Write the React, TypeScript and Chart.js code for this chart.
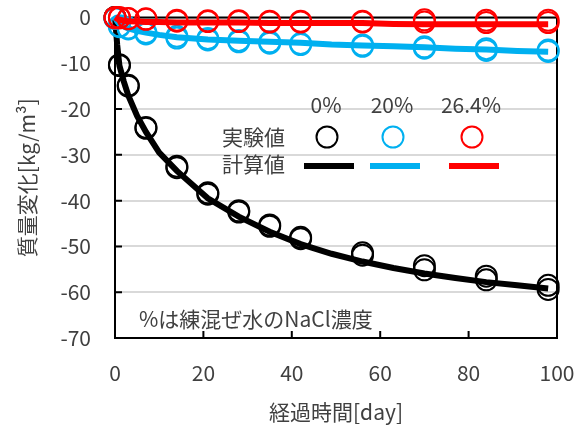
import React, { useEffect, useRef } from "react";
import { Chart, registerables } from "chart.js";

Chart.register(...registerables);

const FONT = '"Noto Sans CJK JP", "Noto Sans", sans-serif';
const TEXT = "#404040";

const seriesLabels = ["0%", "20%", "26.4%"];
const seriesColors = ["#000000", "#00B0F0", "#FF0000"];
const rowLabels = ["実験値", "計算値"];
const noteText = "%は練混ぜ水のNaCl濃度";
const xTitle = "経過時間[day]";
const yTitle = "質量変化[kg/m³]";

const expDays = [0, 1, 3, 7, 14, 21, 28, 35, 42, 56, 70, 84, 98];
const exp0A = [0, -10.3, -14.8, -24, -32.5, -38.3, -42.2, -45.3, -48, -51.4, -54.2, -56.5, -58.5];
const exp0B = [0, -10.5, -15, -24.2, -32.8, -38.6, -42.5, -45.6, -48.3, -51.9, -55.1, -57.3, -59.4];
const exp20A = [-0.2, -1.8, -2.3, -3.3, -4.1, -4.6, -5.0, -5.3, -5.7, -6.0, -6.4, -6.8, -7.1];
const exp20B = [-0.2, -2.0, -2.5, -3.6, -4.5, -4.9, -5.3, -5.6, -5.9, -6.3, -6.7, -7.2, -7.4];
const exp264A = [0, 0, -0.2, -0.3, -0.6, -0.7, -0.7, -0.8, -0.8, -0.8, -0.5, -0.6, -0.6];
const exp264B = [-0.1, -0.1, -0.3, -0.4, -0.8, -0.9, -0.9, -1.0, -1.0, -1.0, -1.0, -1.1, -1.1];

const calcDays = [0, 0.5, 1, 2, 3, 5, 7, 10, 14, 21, 28, 35, 42, 49, 56, 63, 70, 77, 84, 91, 98];
const calc0 = [0, -6, -10.5, -14, -17, -21.5, -25, -29.5, -33.5, -39.5, -43.5, -46.8, -49.5, -51.6, -53.3, -54.7, -55.9, -56.9, -57.8, -58.5, -59.2];
const calc20 = [0, -0.8, -1.4, -2, -2.4, -2.9, -3.3, -3.8, -4.3, -4.8, -5.1, -5.3, -5.5, -5.9, -6.1, -6.3, -6.5, -6.8, -7.0, -7.3, -7.5];
const calc264 = [0, -0.3, -0.5, -0.7, -0.8, -0.9, -1.0, -1.0, -1.1, -1.1, -1.1, -1.2, -1.2, -1.2, -1.2, -1.4, -1.5, -1.5, -1.5, -1.5, -1.5];

const xMin = 0, xMax = 100, xStep = 20;
const yMin = -70, yMax = 0, yStep = 10;

const pts = (xs: number[], ys: number[]) => xs.map((x, i) => ({ x, y: ys[i] }));

const expDataset = (ys: number[], color: string, order: number) => ({
  data: pts(expDays, ys),
  showLine: false,
  pointStyle: "circle",
  pointRadius: 10.5,
  pointBorderWidth: 2,
  pointBorderColor: color,
  pointBackgroundColor: "rgba(0,0,0,0)",
  borderColor: color,
  clip: false,
  order,
});

const calcDataset = (ys: number[], color: string, order: number) => ({
  data: pts(calcDays, ys),
  showLine: true,
  pointRadius: 0,
  borderWidth: 6,
  borderColor: color,
  backgroundColor: color,
  tension: 0,
  clip: false,
  order,
});

const framePlugin = {
  id: "frame",
  beforeDatasetsDraw(chart: any) {
    const { ctx, chartArea: a, scales } = chart;
    ctx.save();
    ctx.strokeStyle = "#000";
    ctx.lineWidth = 2;
    ctx.strokeRect(a.left, a.top, a.right - a.left, a.bottom - a.top);
    ctx.beginPath();
    for (let v = yMin + yStep; v < yMax; v += yStep) {
      const y = scales.y.getPixelForValue(v);
      ctx.moveTo(a.left, y);
      ctx.lineTo(a.left + 7, y);
    }
    for (let v = xMin + xStep; v < xMax; v += xStep) {
      const x = scales.x.getPixelForValue(v);
      ctx.moveTo(x, a.bottom);
      ctx.lineTo(x, a.bottom - 7);
    }
    ctx.stroke();
    ctx.restore();
  },
  afterDatasetsDraw(chart: any) {
    const { ctx } = chart;
    ctx.save();
    ctx.fillStyle = TEXT;
    ctx.font = `21px ${FONT}`;
    ctx.textBaseline = "middle";
    const colX = [326, 392, 471];
    ctx.textAlign = "center";
    seriesLabels.forEach((s, i) => ctx.fillText(s, colX[i], 105));
    ctx.textAlign = "left";
    ctx.fillText(rowLabels[0], 222, 137);
    ctx.fillText(rowLabels[1], 222, 164);
    seriesColors.forEach((c, i) => {
      ctx.strokeStyle = c;
      ctx.lineWidth = 2;
      ctx.beginPath();
      ctx.arc(colX[i] + 1, 137, 10.5, 0, Math.PI * 2);
      ctx.stroke();
      ctx.lineWidth = 6;
      ctx.beginPath();
      ctx.moveTo(colX[i] - 22, 166);
      ctx.lineTo(colX[i] + 28, 166);
      ctx.stroke();
    });
    ctx.fillStyle = TEXT;
    ctx.textAlign = "left";
    ctx.fillText(noteText, 139, 319);
    ctx.restore();
  },
};

const zeroPad = (s: any) => {
  s.paddingTop = 0;
  s.paddingBottom = 0;
  s.paddingLeft = 0;
  s.paddingRight = 0;
};

export default function App() {
  const ref = useRef<HTMLCanvasElement>(null);
  useEffect(() => {
    if (!ref.current) return;
    const chart = new Chart(ref.current, {
      type: "scatter",
      data: {
        datasets: [
          calcDataset(calc264, seriesColors[2], 0),
          expDataset(exp264A, seriesColors[2], 1),
          expDataset(exp264B, seriesColors[2], 1),
          calcDataset(calc20, seriesColors[1], 2),
          expDataset(exp20A, seriesColors[1], 3),
          expDataset(exp20B, seriesColors[1], 3),
          calcDataset(calc0, seriesColors[0], 4),
          expDataset(exp0A, seriesColors[0], 5),
          expDataset(exp0B, seriesColors[0], 5),
        ] as any,
      },
      options: {
        animation: false,
        responsive: false,
        layout: { padding: { left: 0, right: 30, top: 17.5, bottom: 0 } },
        plugins: { legend: { display: false }, tooltip: { enabled: false } },
        scales: {
          x: {
            type: "linear",
            min: xMin,
            max: xMax,
            ticks: { stepSize: xStep, color: TEXT, font: { family: FONT, size: 21 }, padding: 22, maxRotation: 0 },
            grid: { display: false, drawTicks: false },
            border: { display: false },
            title: { display: true, text: xTitle, color: TEXT, font: { family: FONT, size: 21 }, padding: { top: 0, bottom: 5 } },
            afterFit: (s: any) => { s.height = 92; zeroPad(s); },
          },
          y: {
            type: "linear",
            min: yMin,
            max: yMax,
            ticks: { stepSize: yStep, color: TEXT, font: { family: FONT, size: 21 }, padding: 24 },
            grid: { color: "#d9d9d9", lineWidth: 2, drawTicks: false },
            border: { display: false },
            title: { display: true, text: yTitle, color: TEXT, font: { family: FONT, size: 21 }, padding: { top: 14, bottom: 0 } },
            afterFit: (s: any) => { s.width = 115; zeroPad(s); },
          },
        },
      },
      plugins: [framePlugin],
    } as any);
    return () => chart.destroy();
  }, []);
  return (
    <div style={{ position: "fixed", left: 0, top: 0, width: 587, height: 430, background: "#fff" }}>
      <canvas ref={ref} width={587} height={430} style={{ width: 587, height: 430 }} />
    </div>
  );
}
